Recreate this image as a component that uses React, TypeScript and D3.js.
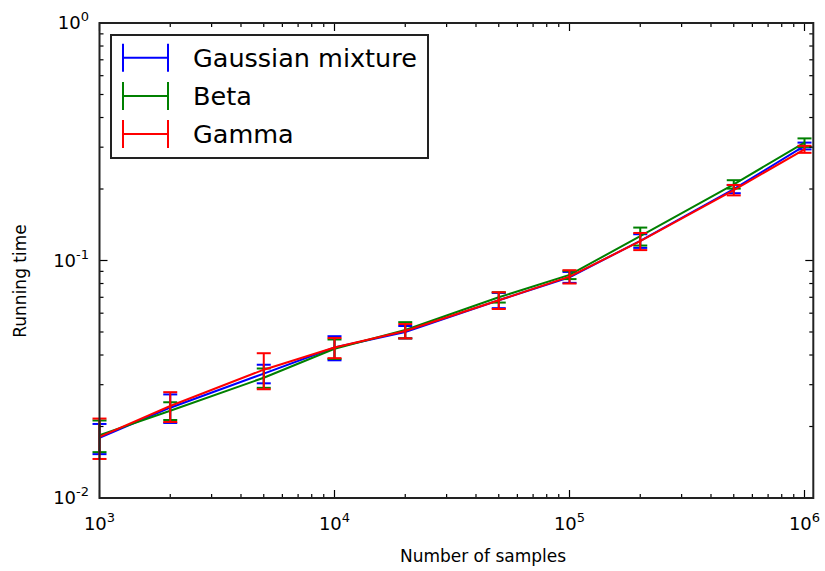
import React from "react";
import * as d3 from "d3";

const samples = [1e3, 2e3, 5e3, 1e4, 2e4, 5e4, 1e5, 2e5, 5e5, 1e6];
const gaussian = [0.0179, 0.024, 0.0334, 0.043, 0.05, 0.068, 0.085, 0.121, 0.2, 0.3036];
const gaussianErr = [0.0026, 0.0033, 0.003, 0.005, 0.003, 0.005, 0.0045, 0.008, 0.008, 0.01];
const beta = [0.0184, 0.0233, 0.0321, 0.0425, 0.051, 0.07, 0.087, 0.1266, 0.2093, 0.3137];
const betaErr = [0.0028, 0.002, 0.003, 0.004, 0.004, 0.0035, 0.0035, 0.011, 0.0085, 0.013];
const gamma = [0.0181, 0.0244, 0.0347, 0.043, 0.0505, 0.068, 0.0855, 0.1206, 0.198, 0.294];
const gammaErr = [0.0035, 0.0035, 0.006, 0.0042, 0.0035, 0.0055, 0.0055, 0.01, 0.01, 0.01];
const seriesNames = ["Gaussian mixture", "Beta", "Gamma"];
const seriesColors = ["#0000ff", "#008000", "#ff0000"];
const xMajor = [3, 4, 5, 6];
const yMajor = [-2, -1, 0];
const xLabel = "Number of samples";
const yLabel = "Running time";

const W = 825;
const H = 571;
const L = 99.5, R = 813.3, T = 23, B = 498;
const FONT = "DejaVu Sans, sans-serif";

export default function App() {
  const x = d3.scaleLog().domain([1e3, 1.09e6]).range([L, R]);
  const y = d3.scaleLog().domain([1e-2, 1]).range([B, T]);
  const series = [
    { vals: gaussian, err: gaussianErr },
    { vals: beta, err: betaErr },
    { vals: gamma, err: gammaErr },
  ];
  const line = d3
    .line<number>()
    .x((_, i) => x(samples[i]))
    .y((v) => y(v));

  const xMinor: number[] = [];
  for (let e = 3; e < 6; e++) for (let k = 2; k <= 9; k++) xMinor.push(k * Math.pow(10, e));
  const yMinor: number[] = [];
  for (let e = -2; e < 0; e++) for (let k = 2; k <= 9; k++) yMinor.push(k * Math.pow(10, e));

  const cap = 7;
  const tickCol = "#000";

  return (
    <svg width={W} height={H} style={{ position: "absolute", left: 0, top: 0, background: "#fff" }}>
      <rect x={0} y={0} width={W} height={H} fill="#fff" />
      {series.map((s, si) => (
        <g key={si} stroke={seriesColors[si]} fill="none" strokeWidth={2}>
          <path d={line(s.vals) || ""} />
          {s.vals.map((v, i) => {
            const cx = x(samples[i]);
            const y1 = y(v + s.err[i]);
            const y2 = y(v - s.err[i]);
            return (
              <g key={i}>
                <line x1={cx} x2={cx} y1={y1} y2={y2} />
                <line x1={cx - cap} x2={cx + cap} y1={y1} y2={y1} />
                <line x1={cx - cap} x2={cx + cap} y1={y2} y2={y2} />
              </g>
            );
          })}
        </g>
      ))}
      <g stroke={tickCol} strokeWidth={1.2}>
        {xMajor.map((e) => {
          const px = x(Math.pow(10, e));
          return (
            <g key={"xM" + e}>
              <line x1={px} x2={px} y1={B} y2={B - 8} />
              <line x1={px} x2={px} y1={T} y2={T + 8} />
            </g>
          );
        })}
        {xMinor.map((v) => {
          const px = x(v);
          return (
            <g key={"xm" + v}>
              <line x1={px} x2={px} y1={B} y2={B - 4} />
              <line x1={px} x2={px} y1={T} y2={T + 4} />
            </g>
          );
        })}
        {yMajor.map((e) => {
          const py = y(Math.pow(10, e));
          return (
            <g key={"yM" + e}>
              <line x1={L} x2={L + 8} y1={py} y2={py} />
              <line x1={R} x2={R - 8} y1={py} y2={py} />
            </g>
          );
        })}
        {yMinor.map((v) => {
          const py = y(v);
          return (
            <g key={"ym" + v}>
              <line x1={L} x2={L + 4} y1={py} y2={py} />
              <line x1={R} x2={R - 4} y1={py} y2={py} />
            </g>
          );
        })}
      </g>
      <rect x={L} y={T} width={R - L} height={B - T} fill="none" stroke="#222" strokeWidth={2} />
      <g fontFamily={FONT} fill="#000">
        {xMajor.map((e) => (
          <text key={"xl" + e} x={x(Math.pow(10, e))} y={530} textAnchor="middle" fontSize={18}>
            10<tspan dy={-8} fontSize={13}>{e}</tspan>
          </text>
        ))}
        {yMajor.map((e) => (
          <text key={"yl" + e} x={89} y={y(Math.pow(10, e)) + 6} textAnchor="end" fontSize={18}>
            10<tspan dy={-8} fontSize={13}>{e === 0 ? "0" : "-" + Math.abs(e)}</tspan>
          </text>
        ))}
        <text x={483} y={562} textAnchor="middle" fontSize={17}>{xLabel}</text>
        <text transform={`translate(26, 281) rotate(-90)`} textAnchor="middle" fontSize={17}>
          {yLabel}
        </text>
      </g>
      <rect x={111} y={35} width={317} height={123} fill="#fff" stroke="#222" strokeWidth={2} />
      {seriesNames.map((n, i) => {
        const ly = 57.7 + i * 38.2;
        return (
          <g key={n}>
            <g stroke={seriesColors[i]} strokeWidth={2}>
              <line x1={123} x2={168} y1={ly} y2={ly} />
              <line x1={123} x2={123} y1={ly - 14} y2={ly + 14} />
              <line x1={168} x2={168} y1={ly - 14} y2={ly + 14} />
            </g>
            <text x={193} y={ly + 9} fontFamily={FONT} fontSize={25.5} fill="#000">{n}</text>
          </g>
        );
      })}
    </svg>
  );
}
